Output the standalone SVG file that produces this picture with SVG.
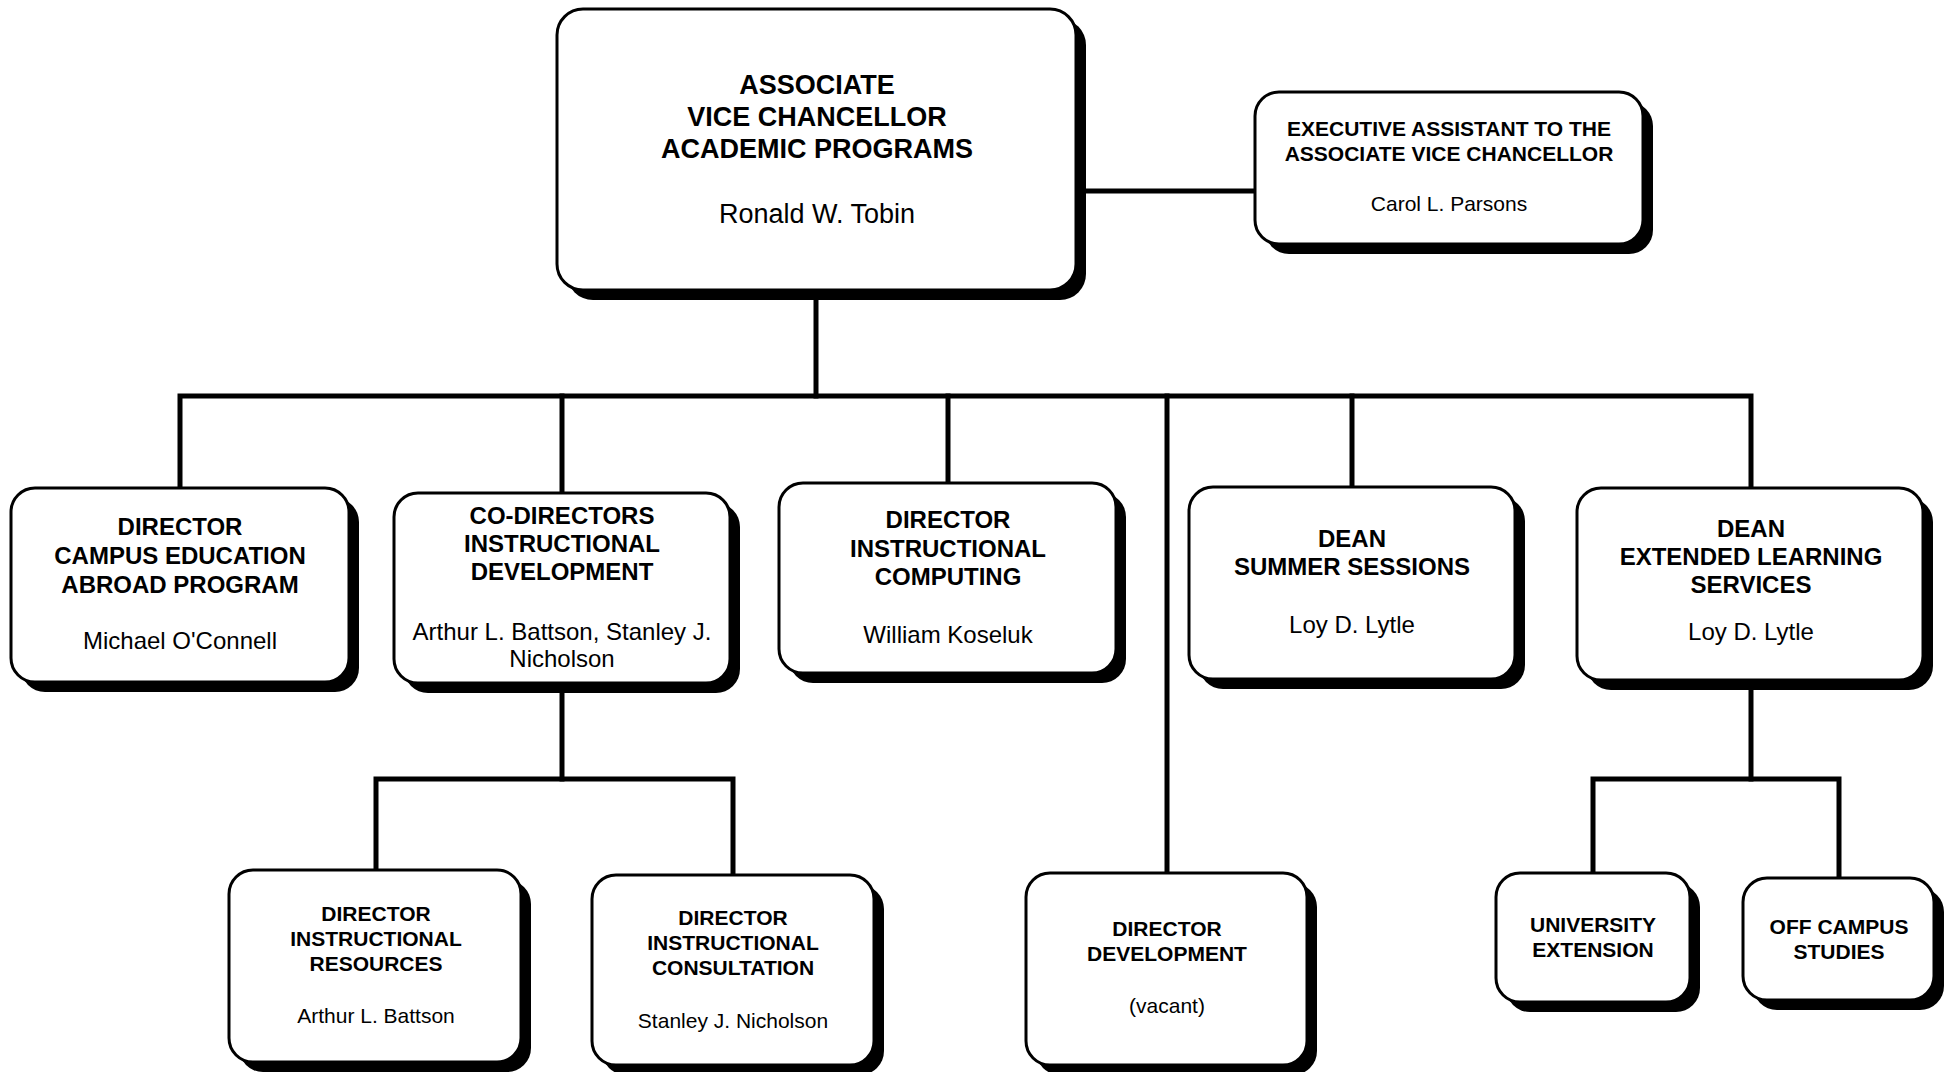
<svg xmlns="http://www.w3.org/2000/svg" width="1954" height="1072" viewBox="0 0 1954 1072">
<style>
.bg{fill:#fff}
.sh{fill:#000}
.bx{fill:#fff;stroke:#000;stroke-width:3}
.ln{stroke:#000;stroke-width:5;fill:none;stroke-linecap:square}
text{font-family:"Liberation Sans",Arial,sans-serif;fill:#000;text-anchor:middle}
.b27{font-weight:bold;font-size:27px}
.r27{font-size:27px}
.b24{font-weight:bold;font-size:24px}
.r24{font-size:24px}
.b21{font-weight:bold;font-size:21px}
.r21{font-size:21px}
</style>
<rect class="bg" x="0" y="0" width="1954" height="1072"/>
<g id="connectors">
<path class="ln" d="M816 290 V396"/>
<path class="ln" d="M1077 191 H1255"/>
<path class="ln" d="M180 488 V396 H1751 V488"/>
<path class="ln" d="M562 396 V493"/>
<path class="ln" d="M948 396 V483"/>
<path class="ln" d="M1167 396 V873"/>
<path class="ln" d="M1352 396 V487"/>
<path class="ln" d="M562 683 V779"/>
<path class="ln" d="M376 870 V779 H733 V875"/>
<path class="ln" d="M1751 680 V779"/>
<path class="ln" d="M1593 873 V779 H1839 V878"/>
</g>
<g id="n-avc">
<rect class="sh" x="567" y="19" width="519" height="281" rx="26"/>
<rect class="bx" x="557" y="9" width="519" height="281" rx="26"/>
<text class="b27" x="817" y="94">ASSOCIATE</text>
<text class="b27" x="817" y="126">VICE CHANCELLOR</text>
<text class="b27" x="817" y="158">ACADEMIC PROGRAMS</text>
<text class="r27" x="817" y="223">Ronald W. Tobin</text>
</g>
<g id="n-exec">
<rect class="sh" x="1265" y="102" width="388" height="152" rx="24"/>
<rect class="bx" x="1255" y="92" width="388" height="152" rx="24"/>
<text class="b21" x="1449" y="136">EXECUTIVE ASSISTANT TO THE</text>
<text class="b21" x="1449" y="161">ASSOCIATE VICE CHANCELLOR</text>
<text class="r21" x="1449" y="211">Carol L. Parsons</text>
</g>
<g id="n-campus">
<rect class="sh" x="21" y="498" width="338" height="194" rx="24"/>
<rect class="bx" x="11" y="488" width="338" height="194" rx="24"/>
<text class="b24" x="180" y="535">DIRECTOR</text>
<text class="b24" x="180" y="564">CAMPUS EDUCATION</text>
<text class="b24" x="180" y="593">ABROAD PROGRAM</text>
<text class="r24" x="180" y="649">Michael O'Connell</text>
</g>
<g id="n-codir">
<rect class="sh" x="404" y="503" width="336" height="190" rx="24"/>
<rect class="bx" x="394" y="493" width="336" height="190" rx="24"/>
<text class="b24" x="562" y="524">CO-DIRECTORS</text>
<text class="b24" x="562" y="552">INSTRUCTIONAL</text>
<text class="b24" x="562" y="580">DEVELOPMENT</text>
<text class="r24" x="562" y="640">Arthur L. Battson, Stanley J.</text>
<text class="r24" x="562" y="667">Nicholson</text>
</g>
<g id="n-computing">
<rect class="sh" x="789" y="493" width="337" height="190" rx="24"/>
<rect class="bx" x="779" y="483" width="337" height="190" rx="24"/>
<text class="b24" x="948" y="528">DIRECTOR</text>
<text class="b24" x="948" y="557">INSTRUCTIONAL</text>
<text class="b24" x="948" y="585">COMPUTING</text>
<text class="r24" x="948" y="643">William Koseluk</text>
</g>
<g id="n-summer">
<rect class="sh" x="1199" y="497" width="326" height="192" rx="24"/>
<rect class="bx" x="1189" y="487" width="326" height="192" rx="24"/>
<text class="b24" x="1352" y="547">DEAN</text>
<text class="b24" x="1352" y="575">SUMMER SESSIONS</text>
<text class="r24" x="1352" y="633">Loy D. Lytle</text>
</g>
<g id="n-extended">
<rect class="sh" x="1587" y="498" width="346" height="192" rx="24"/>
<rect class="bx" x="1577" y="488" width="346" height="192" rx="24"/>
<text class="b24" x="1751" y="537">DEAN</text>
<text class="b24" x="1751" y="565">EXTENDED LEARNING</text>
<text class="b24" x="1751" y="593">SERVICES</text>
<text class="r24" x="1751" y="640">Loy D. Lytle</text>
</g>
<g id="n-resources">
<rect class="sh" x="239" y="880" width="292" height="192" rx="24"/>
<rect class="bx" x="229" y="870" width="292" height="192" rx="24"/>
<text class="b21" x="376" y="921">DIRECTOR</text>
<text class="b21" x="376" y="946">INSTRUCTIONAL</text>
<text class="b21" x="376" y="971">RESOURCES</text>
<text class="r21" x="376" y="1023">Arthur L. Battson</text>
</g>
<g id="n-consultation">
<rect class="sh" x="602" y="885" width="282" height="190" rx="24"/>
<rect class="bx" x="592" y="875" width="282" height="190" rx="24"/>
<text class="b21" x="733" y="925">DIRECTOR</text>
<text class="b21" x="733" y="950">INSTRUCTIONAL</text>
<text class="b21" x="733" y="975">CONSULTATION</text>
<text class="r21" x="733" y="1028">Stanley J. Nicholson</text>
</g>
<g id="n-development">
<rect class="sh" x="1036" y="883" width="281" height="192" rx="24"/>
<rect class="bx" x="1026" y="873" width="281" height="192" rx="24"/>
<text class="b21" x="1167" y="936">DIRECTOR</text>
<text class="b21" x="1167" y="961">DEVELOPMENT</text>
<text class="r21" x="1167" y="1013">(vacant)</text>
</g>
<g id="n-univext">
<rect class="sh" x="1506" y="883" width="194" height="129" rx="24"/>
<rect class="bx" x="1496" y="873" width="194" height="129" rx="24"/>
<text class="b21" x="1593" y="932">UNIVERSITY</text>
<text class="b21" x="1593" y="957">EXTENSION</text>
</g>
<g id="n-offcampus">
<rect class="sh" x="1753" y="888" width="191" height="122" rx="24"/>
<rect class="bx" x="1743" y="878" width="191" height="122" rx="24"/>
<text class="b21" x="1839" y="934">OFF CAMPUS</text>
<text class="b21" x="1839" y="959">STUDIES</text>
</g>
</svg>
